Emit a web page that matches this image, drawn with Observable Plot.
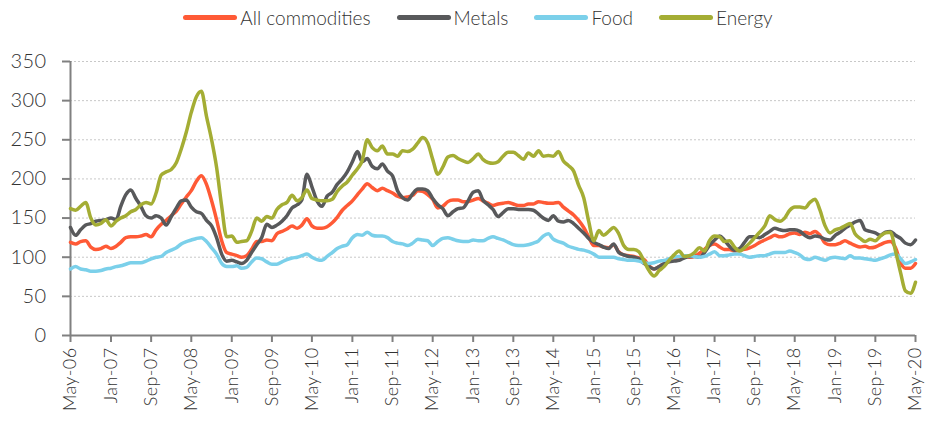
<!DOCTYPE html>
<html><head><meta charset="utf-8">
<script src="https://cdn.jsdelivr.net/npm/d3@7"></script>
<script src="https://cdn.jsdelivr.net/npm/@observablehq/plot@0.6"></script>
<style>
body{margin:0;background:#fff;font-family:Lato,"Open Sans",sans-serif;}
#legend{height:35px;display:flex;justify-content:center;align-items:center;padding-left:26px;font-size:19px;font-weight:300;color:#333}
.item{display:flex;align-items:center;margin:0 13px}
.sw{width:54px;height:5px;border-radius:3px;margin-right:3px}
#chart svg{display:block}
#chart svg text{letter-spacing:0.4px}
</style></head><body>
<div id="legend"></div><div id="chart"></div>
<script>
const seriesNames = ["All commodities", "Metals", "Food", "Energy"];
const seriesColors = ["#ff5a36", "#58595b", "#7bd0ea", "#a4ad34"];
const tickLabels = ["May-06","Jan-07","Sep-07","May-08","Jan-09","Sep-09","May-10","Jan-11","Sep-11","May-12","Jan-13","Sep-13","May-14","Jan-15","Sep-15","May-16","Jan-17","Sep-17","May-18","Jan-19","Sep-19","May-20"];
const yTicks = [0, 50, 100, 150, 200, 250, 300, 350];

// monthly index values, May-06 .. May-20 (rows of 8 months)
const allCommodities = [
119,117,120,121,113,110,111,114,
111,114,119,125,126,126,127,129,
126,135,142,147,153,159,168,177,
185,197,204,193,172,148,121,106,
104,102,100,102,110,120,120,122,
121,130,133,136,140,137,141,149,
140,137,137,139,144,151,160,166,
172,180,187,194,189,185,188,185,
182,178,176,177,179,185,184,180,
174,163,165,171,173,173,171,171,
173,175,172,169,166,168,169,170,
168,166,166,168,168,171,170,169,
169,170,164,159,154,147,138,126,
115,115,113,112,116,107,103,102,
101,99,97,89,85,88,92,95,
97,100,102,100,101,105,110,115,
117,113,110,110,108,109,110,112,
115,119,122,125,128,126,127,130,
131,129,132,130,133,128,118,116,
116,118,121,118,115,113,114,112,
113,116,119,120,112,93,86,86,
92];
const metals = [
138,128,135,141,143,146,147,148,
150,148,165,180,186,175,165,153,
150,153,150,141,152,163,172,173,
164,158,156,147,140,125,104,95,
96,94,92,96,106,116,125,142,
138,141,146,153,163,167,173,206,
190,172,165,178,183,193,200,209,
222,235,222,226,216,213,219,210,
204,185,176,173,181,187,187,185,
175,167,162,153,158,162,163,172,
183,185,173,167,161,152,157,162,
162,161,161,161,160,155,150,147,
153,146,145,147,143,137,131,124,
119,116,113,111,117,106,103,101,
100,98,92,88,85,88,92,94,
95,96,99,101,101,100,106,115,
122,127,122,114,109,111,119,126,
126,125,129,133,137,135,134,135,
135,133,128,125,127,126,123,122,
128,132,137,141,145,147,135,133,
131,128,132,133,128,124,118,116,
122];
const food = [
85,88,85,84,82,82,83,85,
86,88,89,91,93,93,93,95,
98,100,101,106,109,112,117,120,
122,124,125,120,112,104,92,88,
88,89,86,87,94,99,98,94,
91,91,94,97,99,100,102,104,
100,97,96,101,106,111,114,116,
125,129,128,132,128,127,127,125,
120,118,117,115,118,123,122,121,
115,120,124,125,123,121,120,120,
122,121,121,124,126,124,122,119,
116,115,115,116,118,121,127,130,
123,120,118,114,112,110,109,107,
104,100,100,100,100,98,97,96,
96,95,93,92,93,95,96,98,
100,101,102,102,101,100,101,104,
107,102,102,103,104,104,102,100,
101,102,102,104,106,106,106,108,
106,103,98,97,100,98,96,99,
100,99,98,102,99,99,98,97,
96,98,100,103,104,98,92,94,
97];
const energy = [
162,160,165,170,150,141,143,148,
140,146,150,153,158,161,167,170,
168,182,205,209,212,221,238,260,
285,305,312,280,250,215,165,126,
127,119,120,121,133,150,146,152,
150,161,167,170,179,172,176,186,
175,173,172,172,174,184,191,196,
205,213,223,250,240,236,242,232,
232,229,236,235,238,246,253,246,
225,206,215,228,230,226,223,221,
226,232,225,221,220,222,229,234,
234,230,225,233,229,236,229,230,
229,235,223,217,210,192,176,146,
121,134,128,133,138,130,115,110,
110,107,95,83,76,83,88,96,
103,108,101,102,106,112,108,121,
127,126,120,121,113,108,112,118,
125,132,140,153,148,146,150,160,
164,164,163,170,174,160,140,131,
135,137,140,143,130,124,120,123,
121,127,131,132,108,80,57,54,
68];

const seriesValues = [allCommodities, metals, food, energy];
const dates = d3.range(allCommodities.length).map(i => new Date(Date.UTC(2006, 4 + i, 1)));
const tickDates = tickLabels.map((_, i) => dates[i * 8]);
const labelOf = new Map(tickDates.map((d, i) => [+d, tickLabels[i]]));

// legend
const legend = d3.select("#legend");
seriesNames.forEach((n, i) => {
  const it = legend.append("div").attr("class", "item");
  it.append("span").attr("class", "sw").style("background", seriesColors[i]);
  it.append("span").text(n);
});

const chart = Plot.plot({
  width: 930,
  height: 390,
  marginTop: 26,
  marginBottom: 90,
  marginLeft: 70,
  marginRight: 15,
  style: {fontFamily: "Lato, 'Open Sans', sans-serif", fontWeight: 300, color: "#333", background: "#fff"},
  x: {type: "utc", domain: [dates[0], dates[dates.length - 1]]},
  y: {domain: [0, 350]},
  marks: [
    Plot.gridY(yTicks.filter(t => t > 0), {stroke: "#c8c8c8", strokeOpacity: 1, strokeDasharray: "2,2", strokeWidth: 1}),
    Plot.axisY({ticks: yTicks, tickSize: 8, tickPadding: 16, fontSize: 20, stroke: "#808080", strokeWidth: 2, fill: "#333", label: null}),
    Plot.axisX({ticks: tickDates, tickFormat: d => labelOf.get(+d), tickRotate: -90, tickSize: 7, tickPadding: 5, fontSize: 18, stroke: "#808080", strokeWidth: 2, fill: "#333", label: null}),
    Plot.ruleX([dates[0]], {y1: 0, y2: 350, stroke: "#808080", strokeWidth: 2}),
    Plot.ruleY([0], {stroke: "#808080", strokeWidth: 2}),
    ...seriesValues.map((vals, k) => Plot.lineY(vals, {
      x: (d, i) => dates[i], y: d => d,
      stroke: seriesColors[k], strokeWidth: 3.5, curve: "monotone-x"
    }))
  ]
});
document.getElementById("chart").appendChild(chart);
</script>
</body></html>
